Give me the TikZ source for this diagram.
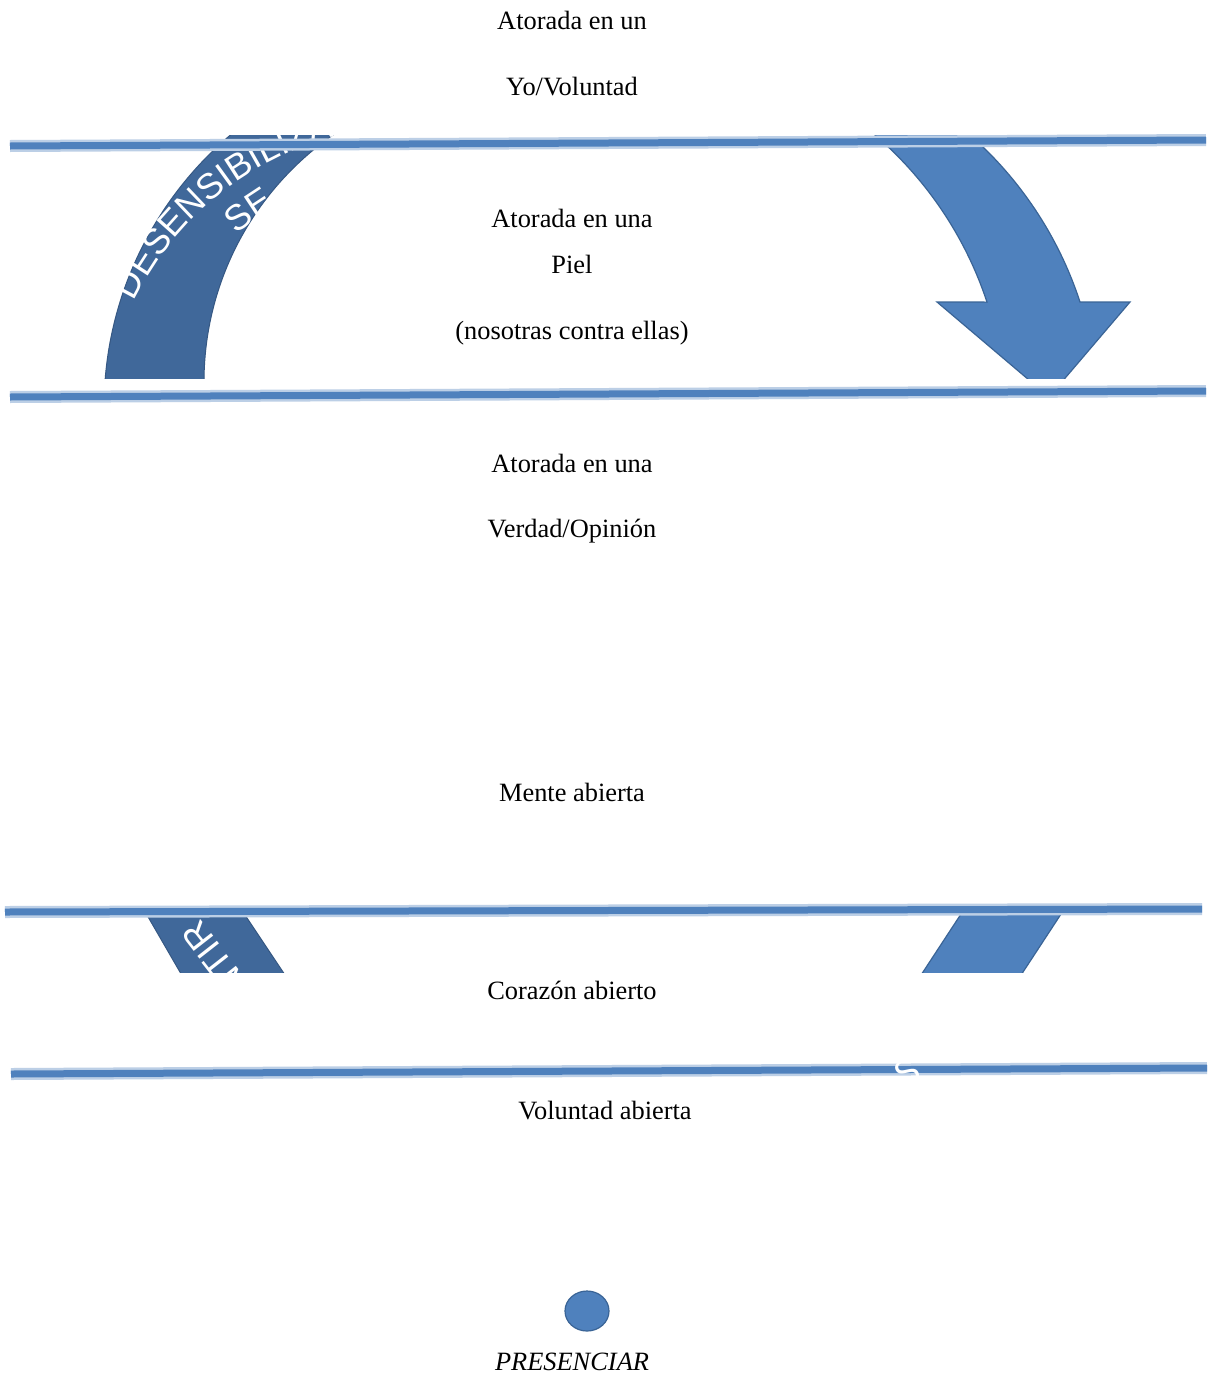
\documentclass[tikz,border=0pt]{standalone}
\usepackage{fontspec}
\setmainfont{Liberation Serif}
\newfontfamily\arcfont{Liberation Sans}
\usetikzlibrary{decorations.text,shapes.geometric}
\definecolor{lineblue}{HTML}{4F81BD}
\definecolor{halo}{HTML}{BCCFE6}
\definecolor{darkarc}{HTML}{40689A}
\definecolor{edgeblue}{HTML}{3A6496}
\newcommand{\lbltxt}{\fontsize{26.4}{30}\selectfont}
\newcommand{\arcsz}{\arcfont\fontsize{36}{36}\selectfont}
\begin{document}
\begin{tikzpicture}[x=1pt,y=-1pt,
  lbl/.style={anchor=base, inner sep=0pt, font=\lbltxt},
  bandline/.style={line width=7pt, lineblue},
  bandhalo/.style={line width=12pt, halo},
  darkshape/.style={fill=darkarc, draw=darkarc!85!black, line width=1pt},
  lightshape/.style={fill=lineblue, draw=edgeblue, line width=1.2pt},
  arctext/.style={inner sep=0pt, text=white, font=\arcsz}]
\useasboundingbox[fill=white] (0,0) rectangle (1208,1376);

% ---- upper band: left arc and right arrow
\begin{scope}
  \clip (0,135) rectangle (1208,378);
  \draw[darkshape] (462,408) ++(180:358) arc[start angle=180, end angle=262, radius=358]
     -- (427.1,91.3) arc[start angle=255, end angle=180, radius=301] -- cycle;
  \path[decorate, decoration={text along path, text color=white, text align=center,
        text={|\arcsz|DESENSIBILIZAR}}]
     (413,437) ++(198:310) arc[start angle=198, end angle=268, radius=310];
  \path[decorate, decoration={text along path, text color=white, text align=center,
        text={|\arcsz|SE}}]
     (413,437) ++(214:268) arc[start angle=214, end angle=254, radius=268];
  \draw[lightshape] (630.5,420) ++(301.6:375.5) arc[start angle=301.6, end angle=341.7, radius=375.5]
     -- (937,302) -- (1049,397) -- (1130,302) -- (1080,302)
     arc[start angle=341.9, end angle=302.6, radius=379.7] -- cycle;
\end{scope}

% ---- lower band fragments
\begin{scope}
  \clip (0,909) rectangle (1208,972);
  \draw[darkshape] (138.3,900) -- (235,900) -- (291.7,985) -- (187.5,985) -- cycle;
  \node[arctext, rotate=128] (sentir) at (230,978) {SENTIR};
  \draw[lightshape] (970.2,900) -- (1070.2,900) -- (1014.5,985) -- (914.5,985) -- cycle;
\end{scope}

% ---- horizontal lines
\draw[bandhalo] (10,146) -- (1206,140);
\draw[bandline] (10,146) -- (1206,140);
\draw[bandhalo] (10,397) -- (1206,391);
\draw[bandline] (10,397) -- (1206,391);
\draw[bandhalo] (5,912) -- (1202,909);
\draw[bandline] (5,912) -- (1202,909);
\draw[bandhalo] (11,1074) -- (1207,1068);
\draw[bandline] (11,1074) -- (1207,1068);
\begin{scope}
  \clip (850,1062) rectangle (950,1079);
  \node[arctext, rotate=25] (sfrag) at (907,1072) {S};
\end{scope}

% ---- labels
\node[lbl] (t1) at (572,29) {Atorada en un};
\node[lbl] (t2) at (572,95) {Yo/Voluntad};
\node[lbl] (t3) at (572,227) {Atorada en una};
\node[lbl] (t4) at (572,273) {Piel};
\node[lbl] (t5) at (572,339) {(nosotras contra ellas)};
\node[lbl] (t6) at (572,472) {Atorada en una};
\node[lbl] (t7) at (572,537) {Verdad/Opinión};
\node[lbl] (t8) at (572,801) {Mente abierta};
\node[lbl] (t9) at (572,999) {Corazón abierto};
\node[lbl] (t10) at (605,1119) {Voluntad abierta};
\node[ellipse, fill=lineblue, draw=edgeblue, line width=1.2pt, minimum width=44pt, minimum height=40pt, inner sep=0pt] (dot) at (587,1311) {};
\node[lbl, font=\lbltxt\itshape] (t11) at (572,1370) {PRESENCIAR};
\end{tikzpicture}
\end{document}
